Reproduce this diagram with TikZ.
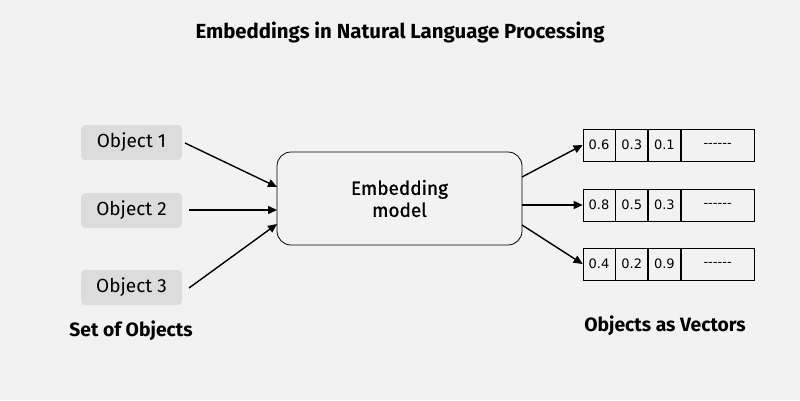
\documentclass[tikz,border=0pt]{standalone}
\usepackage{fontspec}
\setmainfont{Fira Sans}
\newfontfamily\numfont{DejaVu Sans}
\usetikzlibrary{arrows.meta}
\definecolor{bg}{HTML}{F2F2F2}
\definecolor{objgray}{HTML}{DCDCDC}
\definecolor{cellfill}{HTML}{F2F2F2}
\tikzset{
  objbox/.style={fill=objgray, rounded corners=4pt, minimum width=101pt, minimum height=35pt, inner sep=0pt, font=\fontsize{19}{20}\selectfont},
  modelbox/.style={draw=black, line width=0.8pt, fill=bg, rounded corners=14pt, minimum width=245pt, minimum height=93pt, inner sep=0pt, align=center, font=\addfontfeature{FakeBold=1}\fontsize{19}{22}\selectfont},
  cell/.style={draw=black, line width=0.7pt, fill=cellfill, minimum width=32pt, minimum height=32pt, inner sep=0pt, font=\numfont\fontsize{13}{14}\selectfont},
  wcell/.style={cell, minimum width=73pt},
  arr/.style={-{Triangle[length=9pt,width=8pt]}, line width=1.4pt},
  lbl/.style={font=\bfseries\fontsize{19.3}{22}\selectfont},
}
\begin{document}
\begin{tikzpicture}[x=1pt,y=-1pt]
\fill[bg] (0,0) rectangle (800,400);
\useasboundingbox (0,0) rectangle (800,400);
\node[font=\bfseries\fontsize{20.4}{24}\selectfont] (title) at (400,32) {Embeddings in Natural Language Processing};
\node[objbox] (o1) at (131.5,142.5) {\raisebox{-1pt}{Object 1}};
\node[objbox] (o2) at (131.5,210.5) {\raisebox{-1pt}{Object 2}};
\node[objbox] (o3) at (131.5,287.5) {\raisebox{-1pt}{Object 3}};
\node[lbl] (setl) at (131,331) {Set of Objects};
\node[modelbox] (m) at (399.5,198.5) {Embedding\\model};
\coordinate (m1) at (277,187);
\coordinate (m2) at (277,210);
\coordinate (m3) at (277,224);
\coordinate (s1) at (185,143);
\coordinate (s2) at (189,210);
\coordinate (s3) at (189,288);
\draw[arr] (s1) -- (m1);
\draw[arr] (s2) -- (m2);
\draw[arr] (s3) -- (m3);
% vectors
\foreach \r/\y/\a/\b/\c in {1/145/0.6/0.3/0.1, 2/205/0.8/0.5/0.3, 3/264/0.4/0.2/0.9}{
  \node[cell] (v\r a) at (599,\y) {\a};
  \node[cell, anchor=west] (v\r b) at (v\r a.east) {\b};
  \node[cell, anchor=west] (v\r c) at (v\r b.east) {\c};
  \node[wcell, anchor=west, font=\numfont\fontsize{13}{14}\selectfont] (v\r d) at (v\r c.east) {\raisebox{-0.55ex}{-{}-{}-{}-{}-{}-}};
}
\coordinate (e1) at (522,177);
\coordinate (e2) at (522,205);
\coordinate (e3) at (522,225);
\draw[arr] (e1) -- (v1a.west);
\draw[arr] (e2) -- (v2a.west);
\draw[arr] (e3) -- (v3a.west);
\node[lbl] (vecl) at (665,326) {Objects as Vectors};
\end{tikzpicture}
\end{document}
